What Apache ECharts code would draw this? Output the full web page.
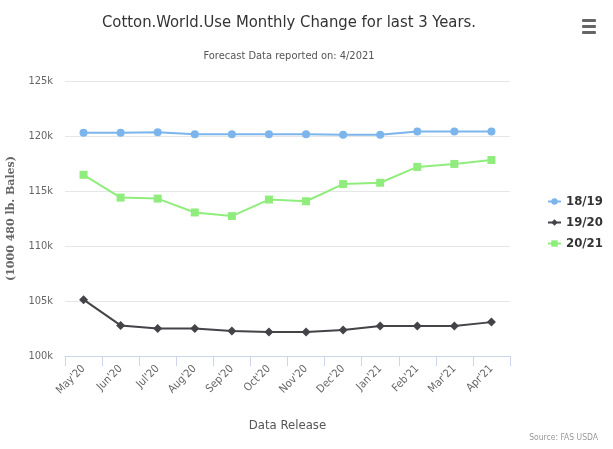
<!DOCTYPE html>
<html>
<head>
<meta charset="utf-8">
<script src="https://cdn.jsdelivr.net/npm/echarts@6/dist/echarts.min.js"></script>
<style>
  html, body { margin: 0; padding: 0; background: #fff; }
  #chart { width: 613px; height: 449px; }
</style>
</head>
<body>
<div id="chart"></div>
<script>
// Monthly forecast releases
const months = ["May'20", "Jun'20", "Jul'20", "Aug'20", "Sep'20", "Oct'20",
                "Nov'20", "Dec'20", "Jan'21", "Feb'21", "Mar'21", "Apr'21"];

// World cotton use per marketing year (1000 480 lb. bales)
const use1819 = [120300, 120300, 120330, 120150, 120150, 120150,
                 120150, 120120, 120120, 120420, 120420, 120420];
const use1920 = [105120, 102780, 102510, 102510, 102270, 102180,
                 102180, 102360, 102720, 102720, 102720, 103080];
const use2021 = [116470, 114400, 114310, 113050, 112720, 114220,
                 114070, 115630, 115750, 117190, 117460, 117820];

const yTicks = { min: 100000, max: 125000, step: 5000 };

const font = "'Liberation Sans Narrow', 'DejaVu Sans Condensed', 'Open Sans', sans-serif";
const diamond = 'path://M0,-1L1,0L0,1L-1,0Z';

const chart = echarts.init(document.getElementById('chart'));
chart.setOption({
  animation: false,
  backgroundColor: '#fff',
  title: [
    {
      text: 'Cotton.World.Use Monthly Change for last 3 Years.',
      left: 284, top: 9, textAlign: 'center',
      textStyle: { fontFamily: font, fontSize: 16.5, fontWeight: 'normal', color: '#333' }
    },
    {
      text: 'Forecast Data reported on: 4/2021',
      left: 284, top: 46, textAlign: 'center',
      textStyle: { fontFamily: font, fontSize: 11, fontWeight: 'normal', color: '#555' }
    },
    {
      text: 'Source: FAS USDA',
      right: 10, bottom: 2,
      textStyle: { fontFamily: font, fontSize: 8.5, fontWeight: 'normal', color: '#999' }
    }
  ],
  legend: {
    orient: 'vertical',
    left: 542, top: 190,
    itemGap: 8,
    itemWidth: 13, itemHeight: 8,
    textStyle: { fontFamily: font, fontSize: 13, fontWeight: 'bold', color: '#333' },
    data: ['18/19', '19/20', '20/21']
  },
  grid: { left: 65, right: 103, top: 81, bottom: 93, outerBoundsMode: 'none', containLabel: false },
  xAxis: {
    type: 'category',
    data: months,
    boundaryGap: true,
    name: 'Data Release',
    nameLocation: 'middle',
    nameGap: 63,
    nameTextStyle: { fontFamily: font, fontSize: 13, color: '#555' },
    axisLine: { lineStyle: { color: '#ccd6eb' } },
    axisTick: { show: true, alignWithLabel: false, length: 10, lineStyle: { color: '#ccd6eb' } },
    axisLabel: { rotate: 45, fontFamily: font, fontSize: 11, color: '#666', margin: 11 }
  },
  yAxis: {
    type: 'value',
    min: yTicks.min, max: yTicks.max, interval: yTicks.step,
    name: '(1000 480 lb. Bales)',
    nameLocation: 'middle',
    nameGap: 48,
    nameTextStyle: { fontFamily: 'DejaVu Serif, serif', fontSize: 11, fontWeight: 'bold', color: '#666' },
    axisLine: { show: false },
    axisTick: { show: false },
    axisLabel: {
      fontFamily: font, fontSize: 11, color: '#666', margin: 12,
      formatter: v => (v / 1000) + 'k'
    },
    splitLine: { lineStyle: { color: '#e6e6e6' } }
  },
  series: [
    {
      name: '18/19', type: 'line', data: use1819,
      color: '#7cb5ec', symbol: 'circle', symbolSize: 8,
      lineStyle: { width: 2 }
    },
    {
      name: '19/20', type: 'line', data: use1920,
      color: '#434348', symbol: diamond, symbolSize: 9,
      lineStyle: { width: 2 }
    },
    {
      name: '20/21', type: 'line', data: use2021,
      color: '#90ed7d', symbol: 'rect', symbolSize: 8,
      lineStyle: { width: 2 }
    }
  ],
  graphic: [
    { type: 'rect', shape: { x: 582, y: 19, width: 14, height: 3, r: 1 }, style: { fill: '#666' } },
    { type: 'rect', shape: { x: 582, y: 25, width: 14, height: 3, r: 1 }, style: { fill: '#666' } },
    { type: 'rect', shape: { x: 582, y: 31, width: 14, height: 3, r: 1 }, style: { fill: '#666' } }
  ]
});
</script>
</body>
</html>
